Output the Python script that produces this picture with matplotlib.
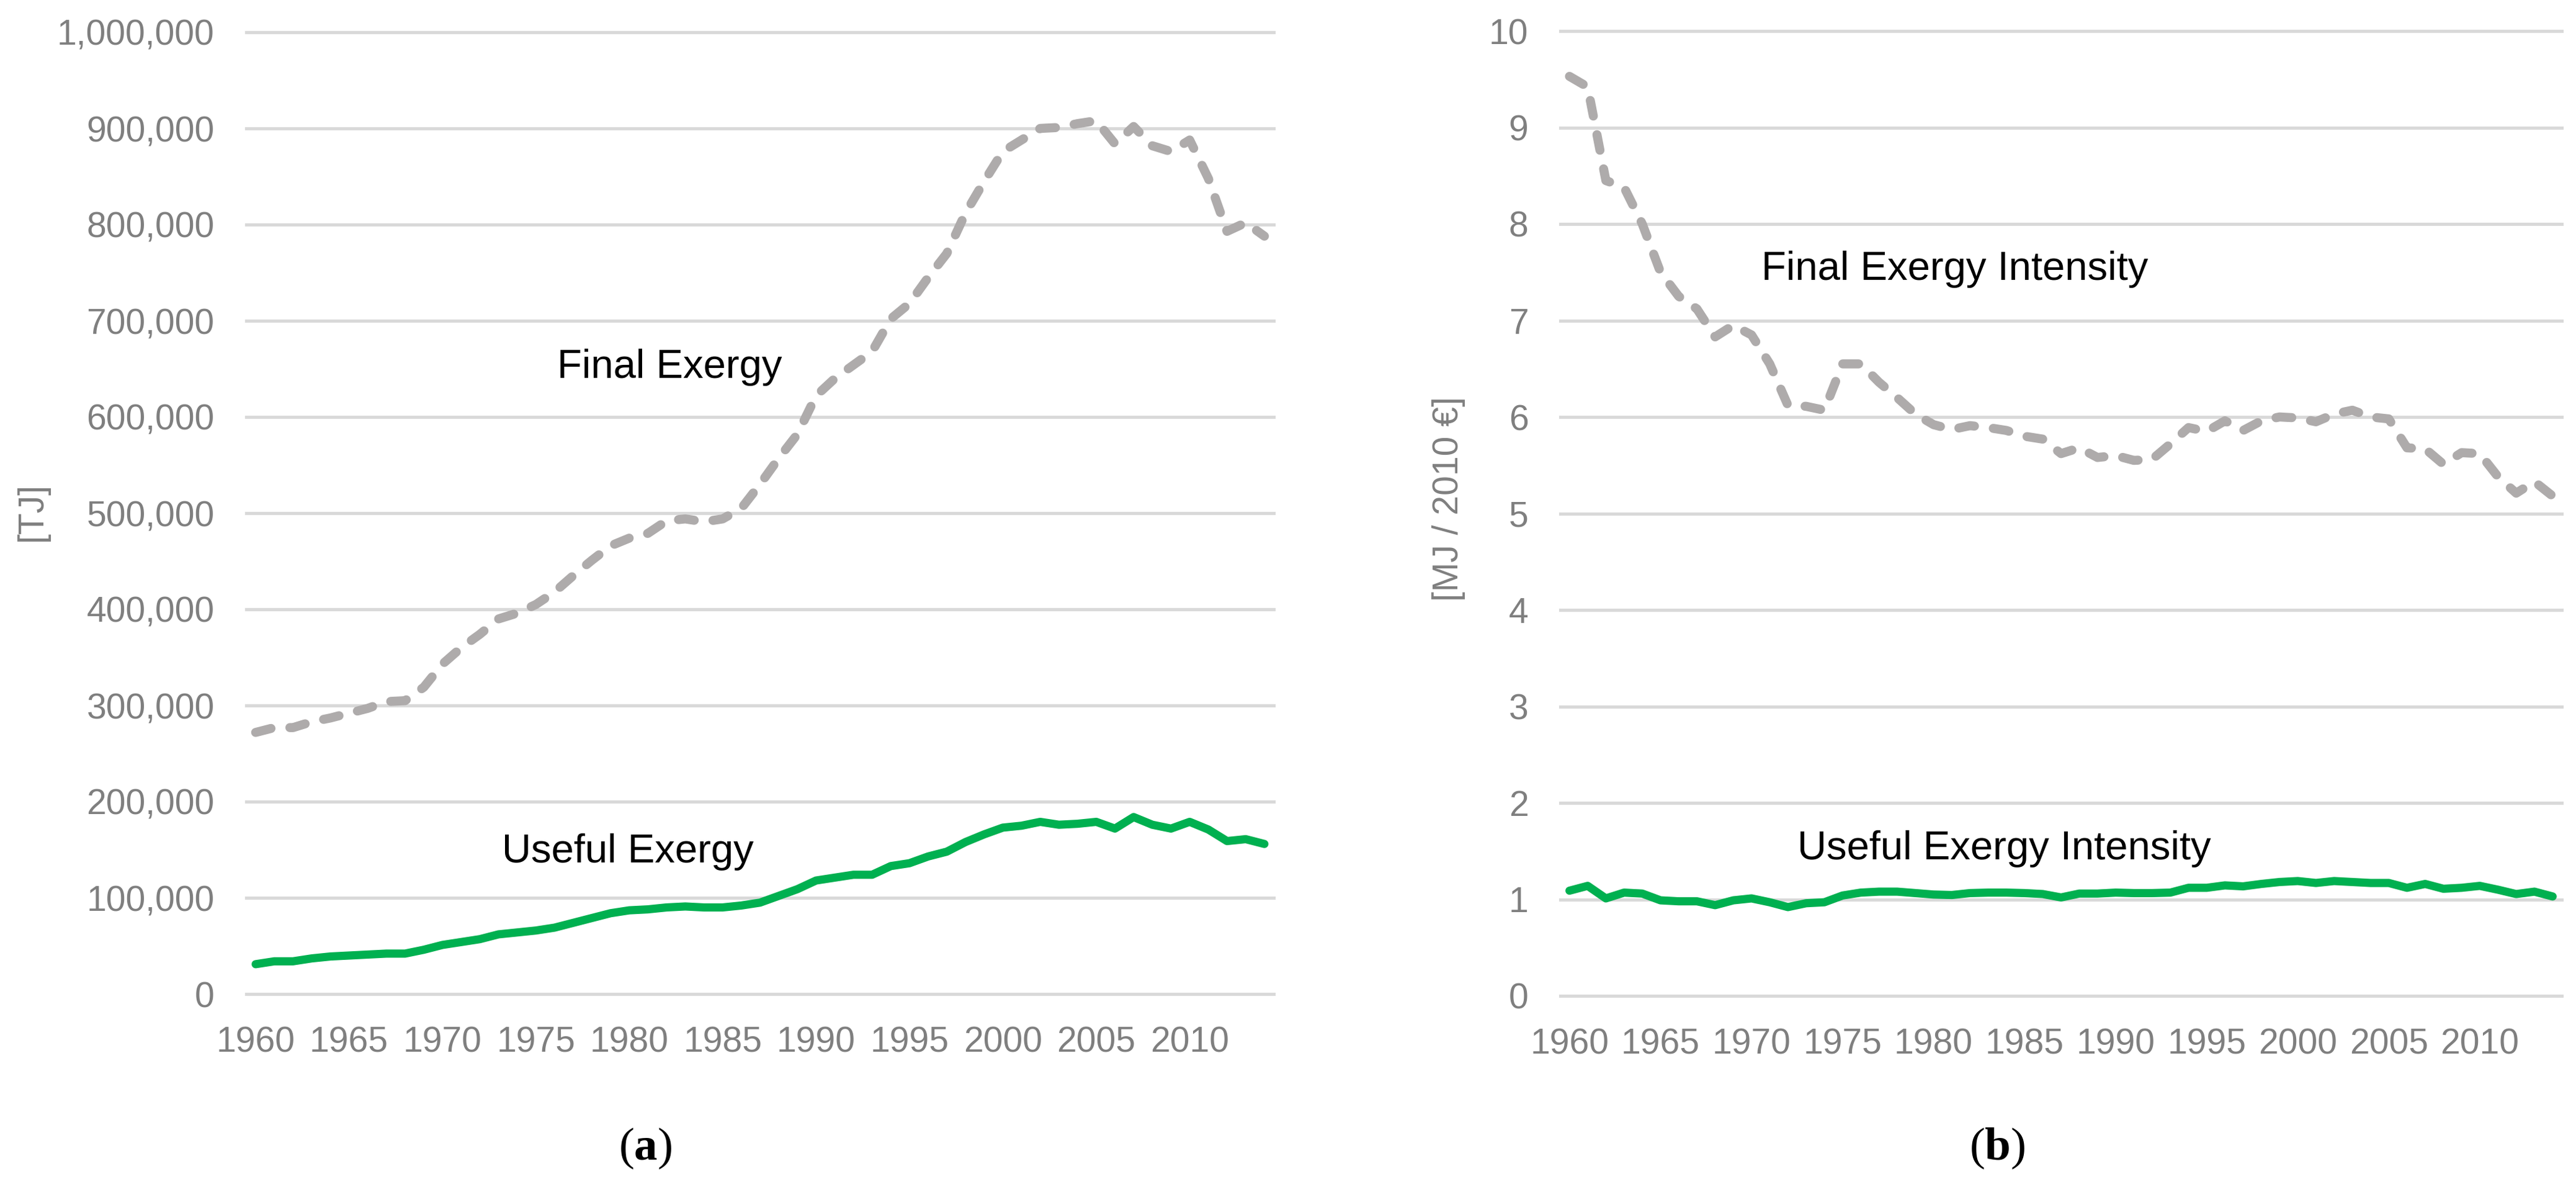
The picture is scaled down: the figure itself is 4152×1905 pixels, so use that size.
import numpy as np
import matplotlib
matplotlib.use('Agg')
import matplotlib.pyplot as plt
from matplotlib.ticker import FuncFormatter, MultipleLocator

plt.rcParams['font.family'] = ['Liberation Sans', 'DejaVu Sans']
plt.rcParams['mathtext.fontset'] = 'custom'
plt.rcParams['mathtext.rm'] = 'Liberation Serif'
plt.rcParams['mathtext.bf'] = 'Liberation Serif:bold'

years = list(range(1960, 2015))

# (a) final and useful exergy [TJ]
final_exergy = [272000, 277000, 277000, 283000, 287000, 292000, 297000, 304000, 305000, 319000,
                343000, 360000, 374000, 390000, 396000, 405000, 418000, 435000, 451000, 466000,
                474000, 479000, 492000, 494000, 491000, 494000, 505000, 530000, 557000, 582000,
                622000, 640000, 654000, 668000, 702000, 718000, 745000, 770000, 812000, 845000,
                876000, 888000, 900000, 901000, 905000, 908000, 884000, 902000, 882000, 876000,
                888000, 848000, 793000, 802000, 788000]
useful_exergy = [31000, 34000, 34000, 37000, 39000, 40000, 41000, 42000, 42000, 46000,
                 51000, 54000, 57000, 62000, 64000, 66000, 69000, 74000, 79000, 84000,
                 87000, 88000, 90000, 91000, 90000, 90000, 92000, 95000, 102000, 109000,
                 118000, 121000, 124000, 124000, 133000, 136000, 143000, 148000, 158000, 166000,
                 173000, 175000, 179000, 176000, 177000, 179000, 172000, 184000, 176000, 172000,
                 179000, 171000, 159000, 161000, 156000]

# (b) intensities [MJ / 2010 EUR]
final_intensity = [9.53, 9.42, 8.45, 8.38, 8.00, 7.50, 7.25, 7.12, 6.83, 6.95,
                   6.85, 6.55, 6.12, 6.11, 6.07, 6.55, 6.55, 6.36, 6.20, 6.03,
                   5.92, 5.87, 5.91, 5.89, 5.86, 5.80, 5.77, 5.62, 5.68, 5.58,
                   5.60, 5.55, 5.56, 5.72, 5.89, 5.85, 5.96, 5.86, 5.96, 6.00,
                   5.99, 5.95, 6.03, 6.07, 6.00, 5.98, 5.68, 5.67, 5.51, 5.63,
                   5.62, 5.38, 5.21, 5.33, 5.18]
useful_intensity = [1.09, 1.14, 1.01, 1.07, 1.06, 0.99, 0.98, 0.98, 0.94, 0.99,
                    1.01, 0.97, 0.92, 0.96, 0.97, 1.04, 1.07, 1.08, 1.08, 1.065,
                    1.05, 1.045, 1.065, 1.07, 1.07, 1.065, 1.055, 1.02, 1.06, 1.06,
                    1.07, 1.065, 1.065, 1.07, 1.12, 1.12, 1.145, 1.135, 1.16, 1.18,
                    1.19, 1.17, 1.19, 1.18, 1.17, 1.17, 1.12, 1.16, 1.11, 1.12,
                    1.14, 1.10, 1.055, 1.08, 1.03]

tick_years = [1960, 1965, 1970, 1975, 1980, 1985, 1990, 1995, 2000, 2005, 2010]

GREEN = '#00B050'
GREY_LINE = '#AEABAB'
GRID = '#D9D9D9'
TXT = '#7F7F7F'

W, H = 4152, 1905
fig = plt.figure(figsize=(W / 100, H / 100), dpi=100)
ax1 = fig.add_axes([397 / W, 1 - 1602 / H, 1656 / W, 1550 / H])
ax2 = fig.add_axes([2515 / W, 1 - 1605 / H, 1614 / W, 1555 / H])

x = np.arange(len(years))


def style(ax):
    for s in ax.spines.values():
        s.set_visible(False)
    ax.set_axisbelow(True)
    ax.yaxis.grid(True, color=GRID, lw=3.7)
    for gl in ax.get_ygridlines():
        gl.set_clip_on(False)
    ax.tick_params(length=0, labelsize=41, labelcolor=TXT, pad=37)
    ax.set_xlim(-0.5, len(years) - 0.5)
    ax.set_xticks([years.index(y) for y in tick_years])
    ax.set_xticklabels([str(y) for y in tick_years])


dash_kw = dict(color=GREY_LINE, lw=10.5, dashes=(1.75, 2.1), dash_capstyle='round',
               solid_joinstyle='round', zorder=3)
solid_kw = dict(color=GREEN, lw=9.5, solid_capstyle='round', solid_joinstyle='round', zorder=3)

ax1.plot(x, final_exergy, **dash_kw)
ax1.plot(x, useful_exergy, **solid_kw)
ax1.set_ylim(0, 1000000)
ax1.yaxis.set_major_locator(MultipleLocator(100000))
ax1.yaxis.set_major_formatter(FuncFormatter(lambda v, p: f'{int(v):,}'))
style(ax1)

ax2.plot(x, final_intensity, **dash_kw)
ax2.plot(x, useful_intensity, **solid_kw)
ax2.set_ylim(0, 10)
ax2.yaxis.set_major_locator(MultipleLocator(1))
style(ax2)

# axis titles
fig.text(52 / W, 1 - 824 / H, '[TJ]', rotation=90, ha='center', va='center', fontsize=41, color=TXT)
fig.text(2335 / W, 1 - 804 / H, '[MJ / 2010 €]', rotation=90, ha='center', va='center', fontsize=41, color=TXT)

# series labels
fig.text(1079 / W, 1 - 609 / H, 'Final Exergy', ha='center', va='baseline', fontsize=47)
fig.text(1012 / W, 1 - 1390 / H, 'Useful Exergy', ha='center', va='baseline', fontsize=47)
fig.text(3151 / W, 1 - 451 / H, 'Final Exergy Intensity', ha='center', va='baseline', fontsize=47)
fig.text(3230 / W, 1 - 1385 / H, 'Useful Exergy Intensity', ha='center', va='baseline', fontsize=47)

# panel letters
fig.text(1040 / W, 1 - 1851 / H, r'($\mathbf{a}$)', ha='center', va='center', fontsize=54,
         family='Liberation Serif')
fig.text(3219 / W, 1 - 1851 / H, r'($\mathbf{b}$)', ha='center', va='center', fontsize=54,
         family='Liberation Serif')

fig.savefig('out.png', dpi=100, facecolor='white')
